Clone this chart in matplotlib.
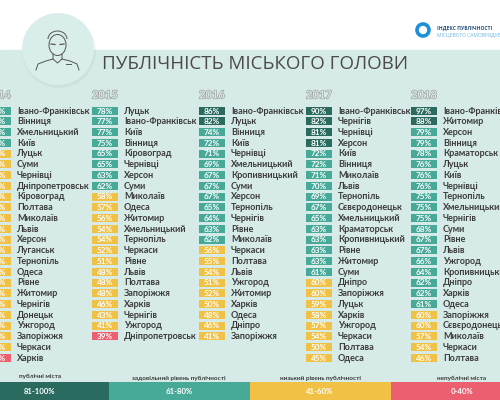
import matplotlib
matplotlib.use("Agg")
import matplotlib.pyplot as plt
import matplotlib.patheffects as pe
from matplotlib.patches import Circle, Ellipse, Arc
import numpy as np

years = ['2014', '2015', '2016', '2017', '2018']

cities_2014 = ['Івано-Франківськ', 'Вінниця', 'Хмельницький', 'Київ', 'Луцьк', 'Суми',
               'Чернівці', 'Дніпропетровськ', 'Кіровоград', 'Полтава', 'Миколаїв', 'Львів',
               'Херсон', 'Луганськ', 'Тернопіль', 'Одеса', 'Рівне', 'Житомир', 'Чернігів',
               'Донецьк', 'Ужгород', 'Запоріжжя', 'Черкаси', 'Харків']
# badges of 2014 are cut off by the picture edge, values estimated
values_2014 = [72, 67, 65, 62, 60, 59, 58, 56, 55, 54, 53, 52,
               51, 50, 49, 48, 47, 46, 45, 44, 43, 42, 41, 36]

cities_2015 = ['Луцьк', 'Івано-Франківськ', 'Київ', 'Вінниця', 'Кіровоград', 'Чернівці',
               'Херсон', 'Суми', 'Миколаїв', 'Одеса', 'Житомир', 'Хмельницький',
               'Тернопіль', 'Черкаси', 'Рівне', 'Львів', 'Полтава', 'Запоріжжя', 'Харків',
               'Чернігів', 'Ужгород', 'Дніпропетровськ']
values_2015 = [78, 77, 77, 75, 65, 65, 63, 62, 58, 57, 56, 54,
               54, 52, 51, 48, 48, 48, 46, 43, 41, 39]

cities_2016 = ['Івано-Франківськ', 'Луцьк', 'Вінниця', 'Київ', 'Чернівці', 'Хмельницький',
               'Кропивницький', 'Суми', 'Херсон', 'Тернопіль', 'Чернігів', 'Рівне',
               'Миколаїв', 'Черкаси', 'Полтава', 'Львів', 'Ужгород', 'Житомир', 'Харків',
               'Одеса', 'Дніпро', 'Запоріжжя']
values_2016 = [86, 82, 74, 72, 71, 69, 67, 67, 67, 65, 64, 63,
               62, 56, 55, 54, 51, 52, 50, 48, 46, 41]

cities_2017 = ['Івано-Франківськ', 'Чернігів', 'Чернівці', 'Херсон', 'Київ', 'Вінниця',
               'Миколаїв', 'Львів', 'Тернопіль', 'Сєвєродонецьк', 'Хмельницький', 'Краматорськ',
               'Кропивницький', 'Рівне', 'Житомир', 'Суми', 'Дніпро', 'Запоріжжя', 'Луцьк',
               'Харків', 'Ужгород', 'Черкаси', 'Полтава', 'Одеса']
values_2017 = [90, 82, 81, 81, 72, 72, 71, 70, 69, 67, 65, 63,
               63, 63, 63, 61, 60, 60, 59, 58, 57, 54, 50, 45]

cities_2018 = ['Івано-Франківськ', 'Житомир', 'Херсон', 'Вінниця', 'Краматорськ', 'Луцьк',
               'Київ', 'Чернівці', 'Тернопіль', 'Хмельницький', 'Чернігів', 'Суми',
               'Рівне', 'Львів', 'Ужгород', 'Кропивницький', 'Дніпро', 'Харків', 'Одеса',
               'Запоріжжя', 'Сєвєродонецьк', 'Миколаїв', 'Черкаси', 'Полтава']
values_2018 = [97, 88, 79, 79, 78, 76, 76, 76, 75, 75, 75, 68,
               67, 67, 66, 64, 62, 62, 61, 60, 60, 57, 54, 46]

legend_labels = ['публічні міста', 'задовільний рівень публічності',
                 'низький рівень публічності', 'непублічні міста']
legend_ranges = ['81-100%', '61-80%', '41-60%', '0-40%']

all_cities = [cities_2014, cities_2015, cities_2016, cities_2017, cities_2018]
all_values = [values_2014, values_2015, values_2016, values_2017, values_2018]

DARK = '#2b6a5f'
GREEN = '#47a998'
YELLOW = '#f0c144'
RED = '#ec5f71'
BAND = '#d6ebe8'
TEXT = '#3b3b3b'


def badge_color(v):
    if v >= 81:
        return DARK
    if v >= 61:
        return GREEN
    if v >= 41:
        return YELLOW
    return RED


fig = plt.figure(figsize=(5, 4), dpi=100)
ax = fig.add_axes([0, 0, 1, 1])
ax.set_xlim(0, 500)
ax.set_ylim(400, 0)
ax.axis('off')

ax.axhspan(50, 400, color=BAND, zorder=0)

# avatar circle
ax.add_patch(Circle((59, 51), 37, fc='#000000', alpha=0.04, ec='none', zorder=1))
ax.add_patch(Circle((58, 49), 36, fc='#d9edeb', ec='none', zorder=1))
line_kw = dict(fill=False, ec='#555555', lw=0.7, zorder=2)
ax.add_patch(Ellipse((57.5, 45), 17, 21, **line_kw))
ax.add_patch(Arc((57.5, 39), 19, 16, theta1=180, theta2=360, **line_kw))
ax.plot([51, 55], [44, 44.5], color='#555555', lw=0.9, zorder=2)
ax.plot([60, 64], [44.5, 44], color='#555555', lw=0.9, zorder=2)
ax.plot([53, 53, 46, 38, 36], [54, 59, 61, 64, 70], color='#555555', lw=0.7, zorder=2)
ax.plot([62, 62, 70, 77, 79], [54, 59, 61, 64, 70], color='#555555', lw=0.7, zorder=2)
ax.plot([53, 57.5, 62], [59, 63, 59], color='#555555', lw=0.7, zorder=2)
ax.plot([66, 71], [64, 64], color='#555555', lw=0.7, zorder=2)

# logo
ax.add_patch(Circle((423, 30), 6, fill=False, ec='#1e90d8', lw=2.6, zorder=2))
ax.text(437, 28.5, 'ІНДЕКС ПУБЛІЧНОСТІ', fontsize=3.6, color='#27507e',
        fontweight='bold', va='center', ha='left', family='Open Sans')
ax.text(437, 35, 'МІСЦЕВОГО САМОВРЯДУВАННЯ', fontsize=3.6, color='#6fb7e2',
        va='center', ha='left', family='Open Sans')

ax.text(255, 64, 'ПУБЛІЧНІСТЬ МІСЬКОГО ГОЛОВИ', ha='center', va='center',
        fontsize=13.5, color='#4a4a4a', family='Open Sans')

col_left = [-15, 92, 199, 306, 411]
badge_w = 26
row0 = 110.7
row_h = 10.74

for left, year, cities, values in zip(col_left, years, all_cities, all_values):
    y = row0 + row_h * np.arange(len(values))
    ax.barh(y, badge_w, left=left, height=8,
            color=[badge_color(v) for v in values], zorder=2)
    for yi, v, c in zip(y, values, cities):
        ax.text(left + badge_w / 2, yi + 0.3, f'{v}%', color='white', ha='center',
                va='center', fontsize=5.9, fontweight='bold', family='Lato', zorder=3)
        ax.text(left + badge_w + 6, yi + 0.3, c, color=TEXT, ha='left', va='center',
                fontsize=6.5, fontweight='bold', family='Lato', zorder=3)
    t = ax.text(left + badge_w / 2, 95, year, color=BAND, ha='center', va='center',
                fontsize=8, fontweight='bold', family='Lato', zorder=3)
    t.set_path_effects([pe.Stroke(linewidth=0.9, foreground='#9a9a9a'), pe.Normal()])

# legend strip
edges = np.array([0, 109, 250, 391, 500])
ax.barh([391] * 4, np.diff(edges), left=edges[:-1], height=18,
        color=[DARK, GREEN, YELLOW, RED], zorder=2)
label_x = [40, 179, 320, 462]
label_y = [376, 378, 378, 378]
for lx, ly, lab, rng in zip(label_x, label_y, legend_labels, legend_ranges):
    ax.text(lx, ly, lab, ha='center', va='center', fontsize=4.6, color=TEXT,
            fontweight='bold', family='Lato')
    ax.text(lx, 391.5, rng, ha='center', va='center', fontsize=5.6, color='white',
            fontweight='bold', family='Lato', zorder=3)

fig.savefig('out.png', dpi=100)
